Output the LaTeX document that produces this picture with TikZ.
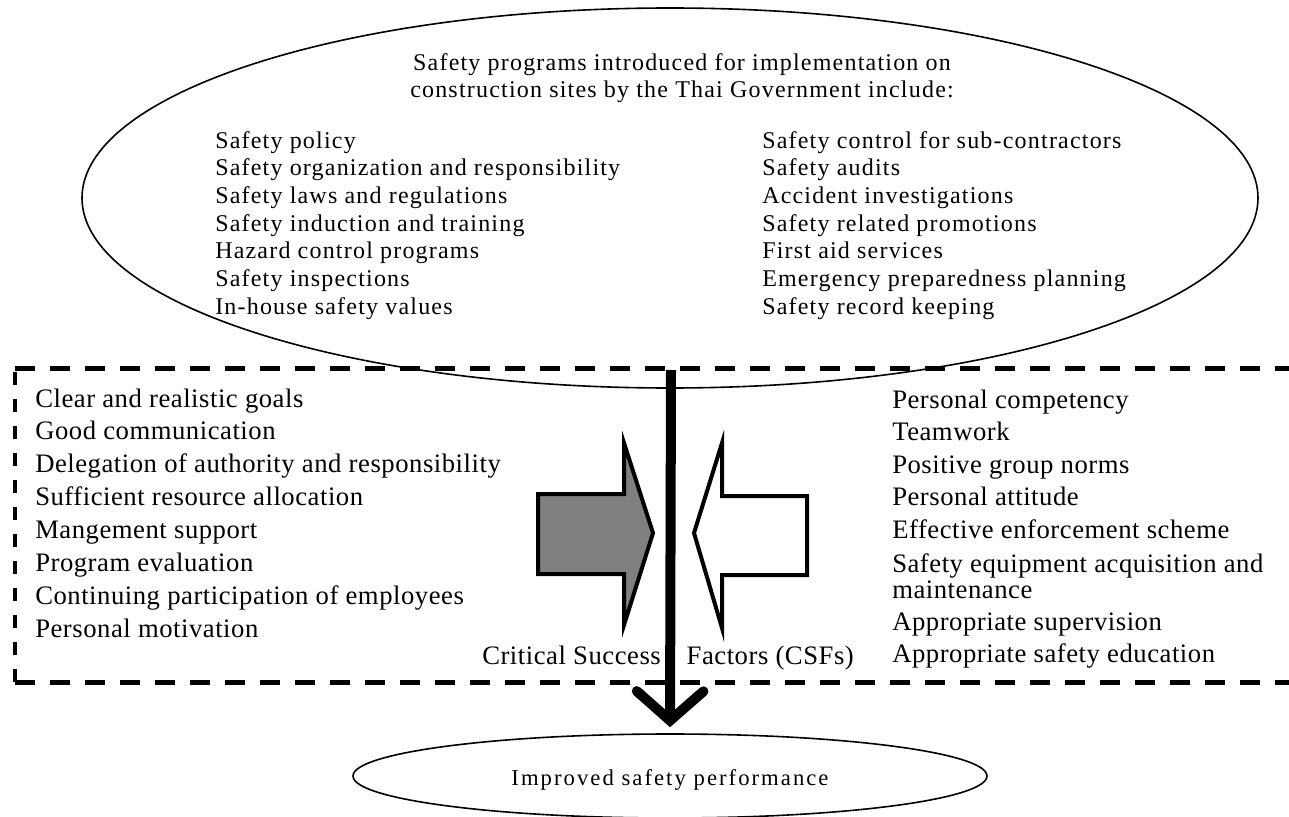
\documentclass[tikz,border=0pt]{standalone}
\usepackage{fontspec}
\setmainfont{Liberation Serif}
\newfontfamily\topf[LetterSpace=5]{Liberation Serif}
\newfontfamily\boxf[LetterSpace=2]{Liberation Serif}
\newfontfamily\botf[LetterSpace=9]{Liberation Serif}
\usetikzlibrary{shapes.geometric,arrows.meta}
\definecolor{arrowgray}{HTML}{808080}
\begin{document}
\begin{tikzpicture}[x=0.75pt,y=-0.75pt,
  oval/.style={draw=black, line width=1.2pt, ellipse, inner sep=0pt},
  topitem/.style={anchor=base west, inner sep=0pt, font=\topf\fontsize{18}{20}\selectfont},
  boxitem/.style={anchor=base west, inner sep=0pt, font=\boxf\fontsize{20}{24}\selectfont},
  hdash/.style={line width=3.75pt, dash pattern=on 15pt off 11.25pt},
  vdash/.style={line width=3pt, dash pattern=on 9.75pt off 10.5pt},
  blockarrow/.style={draw=black, line width=3pt, line join=miter},
  flow/.style={line width=7.5pt, -{Straight Barb[length=22pt,width=50pt,line cap=round]}}]
\useasboundingbox (0,0) rectangle (1289,817);
% top ellipse
\node[oval, minimum width=882pt, minimum height=285pt] (top) at (670,198) {};
% dashed frame
\draw[hdash] (15,368) -- (1289,368);
\draw[hdash] (15,682) -- (1289,682);
\draw[vdash] (15,682) -- (15,368);
% block arrows
\draw[blockarrow, fill=arrowgray] (538,494) -- (624,494) -- (624,443) -- (653,533) -- (624,625) -- (624,574) -- (538,574) -- cycle;
\draw[blockarrow, fill=white] (694,533) -- (722,443) -- (722,496) -- (807,496) -- (807,575) -- (722,575) -- (722,628) -- cycle;
% bottom ellipse
\node[oval, minimum width=475.5pt, minimum height=63pt] (bot) at (670,776) {};
\node[anchor=base, inner sep=0pt, font=\botf\fontsize{17}{20}\selectfont] (botlbl) at (670,785) {Improved safety performance};
% vertical arrow
\coordinate (vtop) at (671,370);
\draw[flow, shorten >=4.5pt] (vtop) -- (bot.north);
% header
\node[anchor=base, inner sep=0pt, font=\topf\fontsize{18}{20}\selectfont] (h1) at (682,70) {Safety programs introduced for implementation on};
\node[anchor=base, inner sep=0pt, font=\topf\fontsize{18}{20}\selectfont] (h2) at (682,98) {construction sites by the Thai Government include:};
% top lists
\foreach \t [count=\i] in {Safety policy, Safety organization and responsibility, Safety laws and regulations, Safety induction and training, Hazard control programs, Safety inspections, In-house safety values}
  \node[topitem] (tl\i) at (215,{148+27.7*(\i-1)}) {\t};
\foreach \t [count=\i] in {Safety control for sub-contractors, Safety audits, Accident investigations, Safety related promotions, First aid services, Emergency preparedness planning, Safety record keeping}
  \node[topitem] (tr\i) at (762,{148+27.7*(\i-1)}) {\t};
% box lists
\foreach \t [count=\i] in {Clear and realistic goals, Good communication, Delegation of authority and responsibility, Sufficient resource allocation, Mangement support, Program evaluation, Continuing participation of employees, Personal motivation}
  \node[boxitem] (bl\i) at (35,{407+32.9*(\i-1)}) {\t};
\foreach \t/\yy [count=\i] in {Personal competency/408, Teamwork/440, Positive group norms/473, Personal attitude/505, Effective enforcement scheme/538, Safety equipment acquisition and/572, maintenance/598, Appropriate supervision/630, Appropriate safety education/662}
  \node[boxitem] (br\i) at (892,\yy) {\t};
% CSF label
\node[boxitem] (csf) at (482,664) {Critical Success\hspace{14pt} Factors (CSFs)};
\end{tikzpicture}
\end{document}
